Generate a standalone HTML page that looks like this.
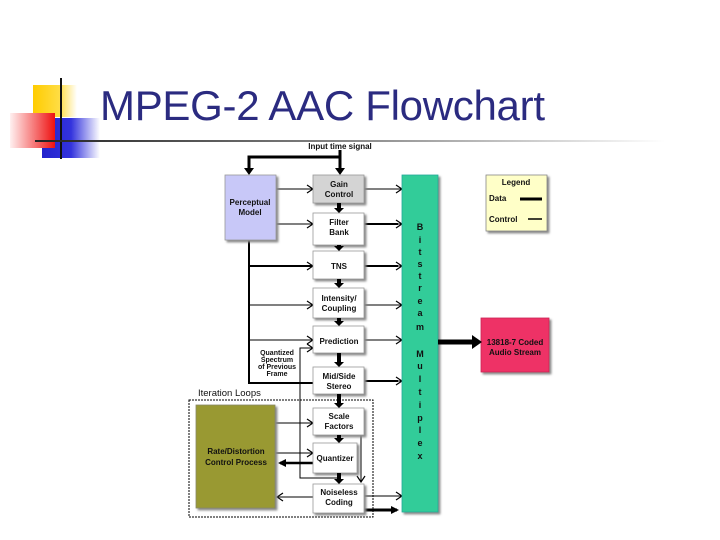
<!DOCTYPE html>
<html><head><meta charset="utf-8"><style>
html,body{margin:0;padding:0;background:#fff;}
svg{display:block;font-family:"Liberation Sans",Arial,sans-serif;}
</style></head><body>
<svg width="720" height="540" viewBox="0 0 720 540" xmlns="http://www.w3.org/2000/svg">
<defs>
<linearGradient id="hr" x1="0" x2="1"><stop offset="0" stop-color="#222"/><stop offset="0.5" stop-color="#888"/><stop offset="1" stop-color="#fff"/></linearGradient>
<linearGradient id="red" x1="1" x2="0"><stop offset="0" stop-color="#ee1111"/><stop offset="1" stop-color="#fff0f0"/></linearGradient>
<linearGradient id="blue" x1="0" x2="1"><stop offset="0" stop-color="#2222cc"/><stop offset="0.5" stop-color="#3333dd"/><stop offset="1" stop-color="#fff"/></linearGradient>
<linearGradient id="yel" x1="0" x2="1"><stop offset="0" stop-color="#ffcc00"/><stop offset="0.6" stop-color="#ffdd44"/><stop offset="1" stop-color="#fff"/></linearGradient>
<filter id="sh"><feDropShadow dx="2" dy="2" stdDeviation="1" flood-color="#888"/></filter>
<marker id="oa" markerWidth="8" markerHeight="10" refX="7" refY="5" orient="auto" markerUnits="userSpaceOnUse"><path d="M1,1 L7,5 L1,9" fill="none" stroke="#000" stroke-width="1.2"/></marker>
<marker id="fa" markerWidth="8" markerHeight="8" refX="6" refY="4" orient="auto" markerUnits="userSpaceOnUse"><path d="M0,0 L8,4 L0,8 z" fill="#000"/></marker>
</defs>
<rect x="33" y="85" width="44" height="32" fill="url(#yel)"/>
<rect x="42" y="118" width="58" height="40" fill="url(#blue)"/>
<rect x="10" y="113" width="45" height="35" fill="url(#red)"/>
<line x1="61" y1="78" x2="61" y2="159" stroke="#111" stroke-width="2"/>
<rect x="35" y="140" width="630" height="2" fill="url(#hr)"/>
<text x="100" y="120" font-size="42" fill="#2b2b80" textLength="445">MPEG-2 AAC Flowchart</text>

<g font-weight="bold" font-size="8" text-anchor="middle" fill="#111">
<text x="340" y="149">Input time signal</text>
</g>
<g stroke="#000" stroke-width="3" fill="none">
<line x1="340" y1="150" x2="340" y2="170"/>
<polyline points="340,157 249,157 249,170"/>
</g>
<path d="M335,168 L345,168 L340,175 z M244,168 L254,168 L249,175 z" fill="#000"/>

<g stroke="#000" stroke-width="1" fill="none" marker-end="url(#oa)">
<line x1="276" y1="189" x2="313" y2="189"/>
<line x1="276" y1="224" x2="313" y2="224"/>
<line x1="249" y1="305" x2="313" y2="305"/>
<line x1="249" y1="340" x2="313" y2="340"/>
</g>
<polyline points="249,240 249,383 313,383" stroke="#000" stroke-width="2" fill="none"/>
<line x1="249" y1="266" x2="313" y2="266" stroke="#000" stroke-width="2" marker-end="url(#oa)"/>

<g stroke="#000" stroke-width="1" fill="none" marker-end="url(#oa)">
<line x1="364" y1="189" x2="402" y2="189"/>
<line x1="364" y1="224" x2="402" y2="224"/>
<line x1="364" y1="266" x2="402" y2="266"/>
<line x1="364" y1="305" x2="402" y2="305"/>
<line x1="364" y1="340" x2="402" y2="340"/>
<line x1="364" y1="381" x2="402" y2="381"/>
<line x1="364" y1="496" x2="402" y2="496"/>
</g>
<line x1="364" y1="224" x2="398" y2="224" stroke="#000" stroke-width="2"/>
<line x1="364" y1="266" x2="398" y2="266" stroke="#000" stroke-width="2"/>
<line x1="364" y1="381" x2="398" y2="381" stroke="#000" stroke-width="2"/>
<line x1="364" y1="510" x2="397" y2="510" stroke="#000" stroke-width="3" marker-end="url(#fa)"/>

<g stroke="#000" stroke-width="1" fill="none">
<polyline points="339,478 300,478 300,348 313,348" marker-end="url(#oa)"/>
<polyline points="361,435 361,482" marker-end="url(#oa)"/>
<line x1="275" y1="423" x2="313" y2="423" marker-end="url(#oa)"/>
<line x1="275" y1="453" x2="313" y2="453" marker-end="url(#oa)"/>
<line x1="313" y1="497" x2="277" y2="497" marker-end="url(#oa)"/>
</g>
<line x1="313" y1="463" x2="280" y2="463" stroke="#000" stroke-width="2.5" marker-end="url(#fa)"/>

<rect x="189" y="400" width="184" height="117" fill="none" stroke="#000" stroke-width="1" stroke-dasharray="2,1"/>
<text x="198" y="396" font-size="9.5" fill="#111">Iteration Loops</text>

<g filter="url(#sh)" stroke="#999" stroke-width="0.8">
<rect x="225" y="175" width="51" height="65" fill="#c8c8f8"/>
<rect x="313" y="175" width="51" height="28" fill="#d4d4d4"/>
<rect x="313" y="213" width="51" height="32" fill="#fff"/>
<rect x="313" y="251" width="51" height="28" fill="#fff"/>
<rect x="313" y="288" width="51" height="30" fill="#fff"/>
<rect x="313" y="326" width="51" height="27" fill="#fff"/>
<rect x="313" y="367" width="51" height="27" fill="#fff"/>
<rect x="313" y="408" width="51" height="27" fill="#fff"/>
<rect x="313" y="443" width="44" height="30" fill="#fff"/>
<rect x="313" y="484" width="51" height="29" fill="#fff"/>
<rect x="402" y="175" width="36" height="337" fill="#33cc99" stroke="#2a9"/>
<rect x="486" y="175" width="61" height="56" fill="#ffffc8" stroke="#888"/>
<rect x="481" y="318" width="68" height="54" fill="#ee3366" stroke="#c25"/>
<rect x="196" y="405" width="79" height="103" fill="#999933" stroke="#886"/>
</g>
<!-- chain arrows on top -->
<g fill="#000">
<path d="M337,203h4v5h3l-5,5l-5,-5h3z"/>
<path d="M337,245h4v1h3l-5,5l-5,-5h3z"/>
<path d="M337,279h4v4h3l-5,5l-5,-5h3z"/>
<path d="M337,318h4v3h3l-5,5l-5,-5h3z"/>
<path d="M337,353h4v9h3l-5,5l-5,-5h3z"/>
<path d="M337,394h4v9h3l-5,5l-5,-5h3z"/>
<path d="M337,435h4v3h3l-5,5l-5,-5h3z"/>
<path d="M337,473h4v6h3l-5,5l-5,-5h3z"/>
</g>
<line x1="438" y1="342" x2="474" y2="342" stroke="#000" stroke-width="5"/>
<path d="M472,335 L482,342 L472,349 z" fill="#000"/>

<g font-weight="bold" font-size="8" text-anchor="middle" fill="#111">
<text x="250" y="205">Perceptual</text><text x="250" y="215">Model</text>
<text x="339" y="187">Gain</text><text x="339" y="197">Control</text>
<text x="339" y="225">Filter</text><text x="339" y="235">Bank</text>
<text x="339" y="269">TNS</text>
<text x="339" y="301">Intensity/</text><text x="339" y="311">Coupling</text>
<text x="339" y="344">Prediction</text>
<text x="339" y="379">Mid/Side</text><text x="339" y="389">Stereo</text>
<text x="339" y="419">Scale</text><text x="339" y="429">Factors</text>
<text x="335" y="461">Quantizer</text>
<text x="339" y="495">Noiseless</text><text x="339" y="505">Coding</text>
<text x="236" y="454">Rate/Distortion</text><text x="236" y="465">Control Process</text>
<text x="516" y="185">Legend</text>
<text x="515" y="345">13818-7 Coded</text><text x="515" y="355">Audio Stream</text>
</g>
<g font-weight="bold" font-size="7" text-anchor="middle" fill="#111">
<text x="277" y="355">Quantized</text><text x="277" y="362">Spectrum</text><text x="277" y="369">of Previous</text><text x="277" y="376">Frame</text>
</g>
<g font-weight="bold" font-size="8" fill="#111">
<text x="489" y="201">Data</text><text x="489" y="222">Control</text>
</g>
<line x1="520" y1="199" x2="542" y2="199" stroke="#000" stroke-width="3"/>
<line x1="528" y1="219" x2="542" y2="219" stroke="#000" stroke-width="1.5"/>
<g font-weight="bold" font-size="9" text-anchor="middle" fill="#111">
<text x="420" y="230">B</text><text x="420" y="243">i</text><text x="420" y="255">t</text><text x="420" y="267">s</text><text x="420" y="279">t</text><text x="420" y="291">r</text><text x="420" y="304">e</text><text x="420" y="316">a</text><text x="420" y="330">m</text>
<text x="420" y="357">M</text><text x="420" y="369">u</text><text x="420" y="382">l</text><text x="420" y="395">t</text><text x="420" y="408">i</text><text x="420" y="421">p</text><text x="420" y="433">l</text><text x="420" y="446">e</text><text x="420" y="459">x</text>
</g>
</svg>
</body></html>
